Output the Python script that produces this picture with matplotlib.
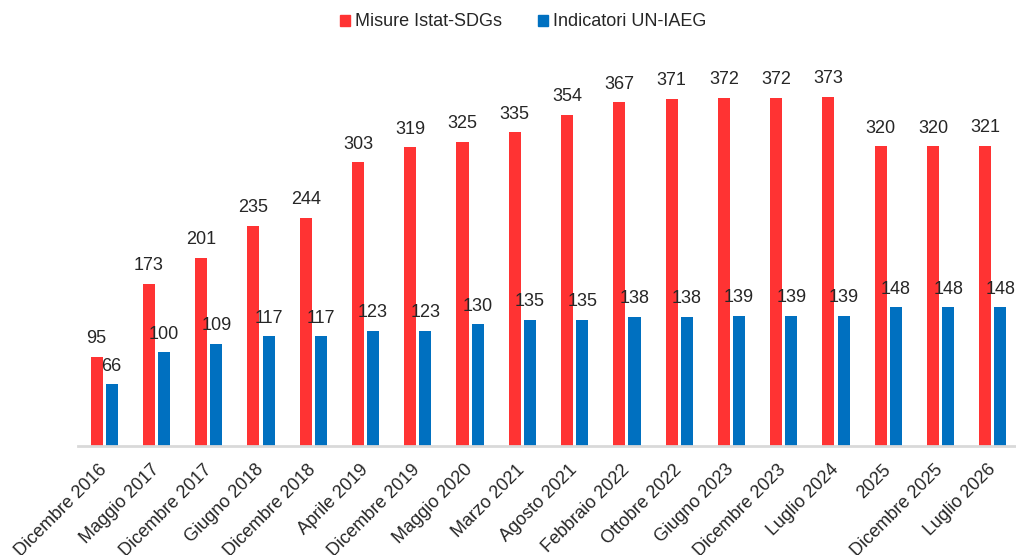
import matplotlib
matplotlib.use("Agg")
import matplotlib.pyplot as plt
from matplotlib.patches import Patch
from matplotlib.transforms import ScaledTranslation
import numpy as np

categories = ["Dicembre 2016", "Maggio 2017", "Dicembre 2017", "Giugno 2018",
              "Dicembre 2018", "Aprile 2019", "Dicembre 2019", "Maggio 2020",
              "Marzo 2021", "Agosto 2021", "Febbraio 2022", "Ottobre 2022",
              "Giugno 2023", "Dicembre 2023", "Luglio 2024", "2025",
              "Dicembre 2025", "Luglio 2026"]
misure_istat = [95, 173, 201, 235, 244, 303, 319, 325, 335, 354, 367, 371,
                372, 372, 373, 320, 320, 321]
indicatori_un = [66, 100, 109, 117, 117, 123, 123, 130, 135, 135, 138, 138,
                 139, 139, 139, 148, 148, 148]
series_names = ["Misure Istat-SDGs", "Indicatori UN-IAEG"]

RED = "#FF3333"
BLUE = "#0070C0"
TXT = "#262626"
plt.rcParams['font.family'] = ['Liberation Sans', 'DejaVu Sans']

W, H = 1016, 555
fig = plt.figure(figsize=(W / 100, H / 100), dpi=100)
left = 78 / W
right = 1019 / W
bottom = (H - 446) / H
ymax = 400
px_per_unit = 0.936
top_px = 446 - ymax * px_per_unit
ax = fig.add_axes([left, bottom, right - left, (446 - top_px) / H])

x = np.arange(len(categories))
bw = 0.23
off = 0.145
b1 = ax.bar(x - off, misure_istat, bw, color=RED, label=series_names[0])
b2 = ax.bar(x + off, indicatori_un, bw, color=BLUE, label=series_names[1])

for bars, vals in ((b1, misure_istat), (b2, indicatori_un)):
    for rect, v in zip(bars, vals):
        ax.annotate(str(v), (rect.get_x() + rect.get_width() / 2, rect.get_height()),
                    xytext=(0, 7), textcoords="offset points",
                    ha="center", va="bottom", fontsize=13, color=TXT)

ax.set_xlim(-0.5, len(categories) - 0.5)
ax.set_ylim(0, ymax)
ax.set_yticks([])
for s in ("top", "right", "left"):
    ax.spines[s].set_visible(False)
ax.spines["bottom"].set_color("#D9D9D9")
ax.spines["bottom"].set_linewidth(2)
ax.set_xticks(x)
ax.set_xticklabels(categories, rotation=45, ha="right", va="top",
                   rotation_mode="anchor", fontsize=13, color=TXT)
ax.tick_params(axis="x", length=0, pad=8)
shift = ScaledTranslation(-6 / 100, -4 / 100, fig.dpi_scale_trans)
for lab in ax.get_xticklabels():
    lab.set_transform(lab.get_transform() + shift)

handles = [Patch(color=RED), Patch(color=BLUE)]
fig.legend(handles, series_names, loc="center", bbox_to_anchor=(0.515, 1 - 22 / H),
           ncol=2, frameon=False, fontsize=13, handlelength=0.55, handleheight=0.55,
           handletextpad=0.3, columnspacing=2.0, labelcolor=TXT)

fig.savefig("out.png", dpi=100)
